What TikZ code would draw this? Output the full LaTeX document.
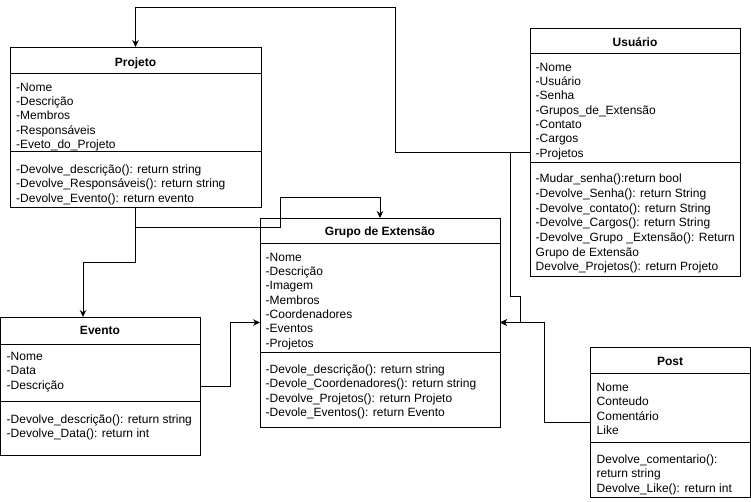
\documentclass[tikz,border=0pt]{standalone}
\usepackage{fontspec}
\setmainfont{Liberation Sans}
\usetikzlibrary{arrows.meta,calc}
\newcommand\clslines[5][14.35]{%
  \foreach \t [count=\i from 0] in {#5} {\node[txt] (#2-\i) at (#3,{#4+\i*#1}) {\t};}}
\begin{document}
\begin{tikzpicture}[x=1pt,y=-1pt,
  box/.style={draw,line width=1pt,anchor=north west,inner sep=0pt,outer sep=0pt},
  sep/.style={line width=1pt},
  txt/.style={anchor=base west,inner sep=0pt,font=\fontsize{12}{14}\selectfont},
  ttl/.style={anchor=base,inner sep=0pt,font=\fontsize{12}{14}\selectfont\bfseries},
  conn/.style={line width=1pt},
  arr/.style={conn,-{Stealth[length=7pt,width=6.5pt]}}]
\useasboundingbox (0,0) rectangle (751,501);

% Projeto
\node[box,minimum width=251pt,minimum height=160pt] (proj) at (10,47) {};
\draw[sep] (10,73) -- (261,73) (10,151) -- (261,151);
\node[ttl] (projt) at (135.5,66) {Projeto};
\clslines{pa}{16}{91}{-Nome,-Descrição,-Membros,-Responsáveis,-Eveto\_do\_Projeto}
\clslines{pm}{16}{173.3}{-Devolve\_descrição(): return string,-Devolve\_Responsáveis(): return string,-Devolve\_Evento(): return evento}

% Usuario
\node[box,minimum width=210pt,minimum height=248.5pt] (usr) at (530,28) {};
\draw[sep] (530,53) -- (740,53) (530,162) -- (740,162);
\node[ttl] (usrt) at (635,46) {Usuário};
\clslines{ua}{535.5}{71}{-Nome,-Usuário,-Senha,-Grupos\_de\_Extensão,-Contato,-Cargos,-Projetos}
\clslines[14.7]{um}{535.5}{182.6}{-Mudar\_senha():return bool,-Devolve\_Senha(): return String,-Devolve\_contato(): return String,-Devolve\_Cargos(): return String,-Devolve\_Grupo \_Extensão(): Return,Grupo de Extensão,Devolve\_Projetos(): return Projeto}

% Grupo de Extensao
\node[box,minimum width=240pt,minimum height=209pt] (grp) at (260,218) {};
\draw[sep] (260,243) -- (500,243) (260,352) -- (500,352);
\node[ttl] (grpt) at (380,235) {Grupo de Extensão};
\clslines{ga}{265.5}{261}{-Nome,-Descrição,-Imagem,-Membros,-Coordenadores,-Eventos,-Projetos}
\clslines{gm}{265.5}{373.3}{-Devole\_descrição(): return string,-Devole\_Coordenadores(): return string,-Devolve\_Projetos(): return Projeto,-Devole\_Eventos(): return Evento}

% Evento
\node[box,minimum width=199.5pt,minimum height=138pt] (evt) at (0.5,317) {};
\draw[sep] (0.5,344) -- (200,344) (0.5,401) -- (200,401);
\node[ttl] (evtt) at (100,334.3) {Evento};
\clslines{ea}{6.5}{360.3}{-Nome,-Data,-Descrição}
\clslines{em}{6.5}{423}{-Devolve\_descrição(): return string,-Devolve\_Data(): return int}

% Post
\node[box,minimum width=160pt,minimum height=149.5pt] (post) at (590,347.5) {};
\draw[sep] (590,373) -- (750,373) (590,442) -- (750,442);
\node[ttl] (postt) at (670,365.3) {Post};
\clslines{sa}{596.5}{391.6}{Nome,Conteudo,Comentário,Like}
\clslines[14.4]{sm}{596.5}{463.3}{Devolve\_comentario():,return string,Devolve\_Like(): return int}

% connectors
\coordinate (u1) at (395,7);
\draw[arr] (usr.west) -| (u1) -| (proj.north);
\coordinate (u2) at (510.7,296);
\coordinate (u3) at (520.7,322.5);
\draw[arr] (usr.west) -| (u2) -| (u3) -- (grp.east);
\coordinate (p2) at (544,322.5);
\draw[arr] (post.west) -| (p2) -- (grp.east);
\coordinate (j1) at (135.5,262);
\draw[arr] (proj.south) -- (j1) -| ($(evt.north west)+(82.5,0)$);
\coordinate (j0) at (135.5,227);
\coordinate (j2) at (280,197);
\draw[arr] (j0) -| (j2) -| (grp.north);
\coordinate (e1) at (230,322.5);
\draw[arr] (evt.east) -| (e1) -- (grp.west);
\end{tikzpicture}
\end{document}
